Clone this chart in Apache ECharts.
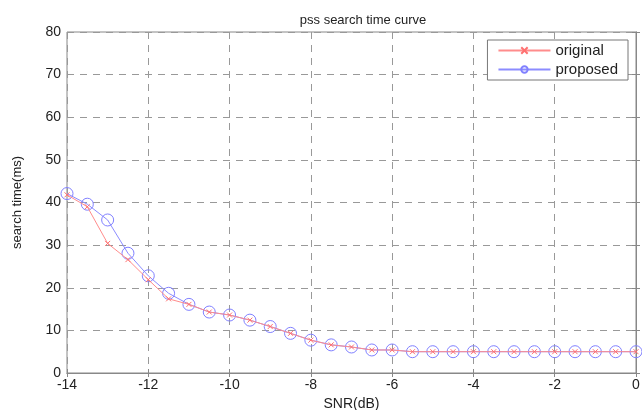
<!DOCTYPE html>
<html>
<head>
<meta charset="UTF-8">
<title>pss search time curve</title>
<style>
html,body{margin:0;padding:0;background:#fff;}
#main{width:642px;height:410px;}
</style>
</head>
<body>
<div id="main"></div>
<script src="https://cdn.jsdelivr.net/npm/echarts@6/dist/echarts.min.js"></script>
<script>
var snr = [-14,-13.5,-13,-12.5,-12,-11.5,-11,-10.5,-10,-9.5,-9,-8.5,-8,-7.5,-7,-6.5,-6,-5.5,-5,-4.5,-4,-3.5,-3,-2.5,-2,-1.5,-1,-0.5,0];
var original = [41.8,39,30.4,26.6,21.9,17.4,16.1,14.3,13.6,12.4,10.9,9.3,7.7,6.6,6.1,5.4,5.4,5,5,5,5,5,5,5,5,5,5,5,5];
var proposed = [42.1,39.6,35.9,28.1,22.8,18.7,16.1,14.3,13.6,12.4,10.9,9.3,7.7,6.6,6.1,5.4,5.4,5,5,5,5,5,5,5,5,5,5,5,5];

function pairs(ys){
  return snr.map(function(x,i){ return [x, ys[i]]; });
}

var chart = echarts.init(document.getElementById('main'));
var font = 'Liberation Sans, Arial, sans-serif';
var crossPath = 'path://M0,0L10,10M10,0L0,10';

chart.setOption({
  backgroundColor: '#fff',
  animation: false,
  title: {
    text: 'pss search time curve',
    left: 358, top: 9, textAlign: 'center',
    textStyle: {fontFamily: font, fontSize: 13, fontWeight: 'normal', color: '#222'}
  },
  legend: {
    right: 14, top: 40,
    orient: 'vertical',
    itemWidth: 52, itemHeight: 8, itemGap: 4,
    padding: [3, 10, 3, 10],
    borderColor: '#777', borderWidth: 1,
    backgroundColor: '#fff',
    textStyle: {fontFamily: font, fontSize: 15, color: '#222'},
    data: ['original', 'proposed']
  },
  grid: {left: 67, right: 6, top: 32, bottom: 37, outerBoundsMode: 'none',
    show: true, borderColor: '#888', borderWidth: 1},
  xAxis: [{
    type: 'value', min: -14, max: 0, interval: 2,
    name: 'SNR(dB)', nameLocation: 'middle', nameGap: 24,
    nameTextStyle: {fontFamily: font, fontSize: 14, color: '#222'},
    axisLine: {show: true, onZero: false, lineStyle: {color: '#888'}},
    axisTick: {inside: true, length: 4, lineStyle: {color: '#888'}},
    axisLabel: {fontFamily: font, fontSize: 14, color: '#222', margin: 5},
    splitLine: {show: true, lineStyle: {color: '#999', type: [7, 6]}}
  }, {
    type: 'value', min: -14, max: 0, interval: 2, position: 'top',
    axisLine: {show: true, lineStyle: {color: '#888'}},
    axisTick: {inside: true, length: 4, lineStyle: {color: '#888'}},
    axisLabel: {show: false}, splitLine: {show: false}
  }],
  yAxis: [{
    type: 'value', min: 0, max: 80, interval: 10,
    name: 'search time(ms)', nameLocation: 'middle', nameGap: 43,
    nameTextStyle: {fontFamily: font, fontSize: 13, color: '#222'},
    axisLine: {show: true, lineStyle: {color: '#888'}},
    axisTick: {inside: true, length: 4, lineStyle: {color: '#888'}},
    axisLabel: {fontFamily: font, fontSize: 14, color: '#222', margin: 6},
    splitLine: {show: true, lineStyle: {color: '#999', type: [7, 6]}}
  }, {
    type: 'value', min: 0, max: 80, interval: 10, position: 'right',
    axisLine: {show: true, lineStyle: {color: '#888'}},
    axisTick: {inside: true, length: 4, lineStyle: {color: '#888'}},
    axisLabel: {show: false}, splitLine: {show: false}
  }],
  series: [{
    name: 'original', type: 'line',
    data: pairs(original),
    symbol: crossPath, symbolSize: 5,
    lineStyle: {color: '#ff8c8c', width: 1},
    itemStyle: {color: 'none', borderColor: '#ff7070', borderWidth: 1},
    z: 3
  }, {
    name: 'proposed', type: 'line',
    data: pairs(proposed),
    symbol: 'circle', symbolSize: 12,
    lineStyle: {color: '#8c8cff', width: 1},
    itemStyle: {color: 'none', borderColor: '#8080ff', borderWidth: 1},
    z: 2
  }]
});
</script>
</body>
</html>
